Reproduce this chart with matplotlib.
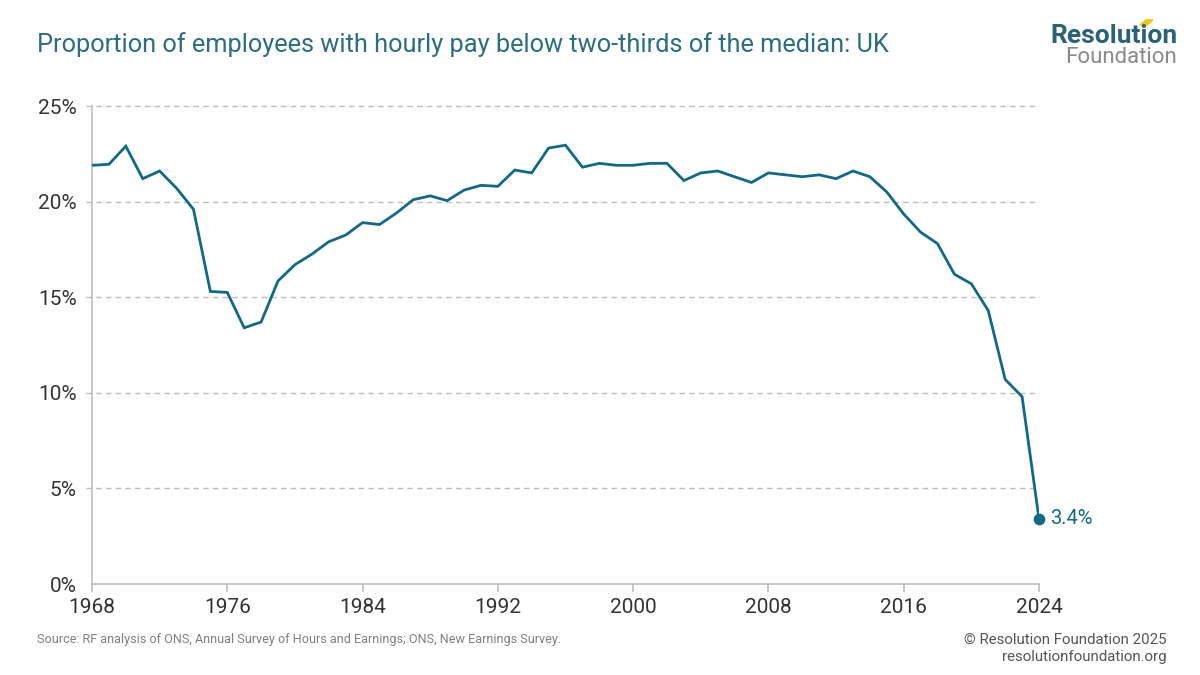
import matplotlib
matplotlib.use("Agg")
import matplotlib.pyplot as plt
from matplotlib.ticker import FuncFormatter

years = list(range(1968, 2025))
low_pay_share = [
    21.9, 21.95, 22.9, 21.2, 21.6, 20.7, 19.6, 15.3, 15.25, 13.4,
    13.7, 15.85, 16.7, 17.25, 17.9, 18.25, 18.9, 18.8, 19.4, 20.1,
    20.3, 20.05, 20.6, 20.85, 20.8, 21.65, 21.5, 22.8, 22.95, 21.8,
    22.0, 21.9, 21.9, 22.0, 22.0, 21.1, 21.5, 21.6, 21.3, 21.0,
    21.5, 21.4, 21.3, 21.4, 21.2, 21.6, 21.3, 20.5, 19.35, 18.4,
    17.8, 16.2, 15.7, 14.3, 10.7, 9.8, 3.4,
]
x_ticks = [1968, 1976, 1984, 1992, 2000, 2008, 2016, 2024]
y_ticks = [0, 5, 10, 15, 20, 25]

TEAL = "#106a87"
TITLE_C = "#2b6e7f"
GREY = "#bdbdbd"
TXT = "#333333"

plt.rcParams['font.family'] = ['Roboto', 'DejaVu Sans']

fig = plt.figure(figsize=(12, 6.75), dpi=100)
ax = fig.add_axes([92/1200, 1 - 584/675, (1039-92)/1200, (584-106)/675])

ax.plot(years, low_pay_share, color=TEAL, lw=2, solid_joinstyle='miter', zorder=3)
ax.scatter([years[-1]], [low_pay_share[-1]], s=55, color=TEAL, zorder=4, clip_on=False)
ax.annotate(f"{low_pay_share[-1]:.1f}%", (years[-1], low_pay_share[-1]),
            xytext=(8, 0), textcoords='offset points', va='center', ha='left',
            color=TEAL, fontsize=14.5)

ax.set_xlim(1968, 2024)
ax.set_ylim(0, 25)
ax.set_xticks(x_ticks)
ax.set_yticks(y_ticks)
ax.yaxis.set_major_formatter(FuncFormatter(lambda v, p: f"{v:.0f}%"))

for y in y_ticks[1:]:
    ax.axhline(y, xmin=-6/947, xmax=1, color=GREY, lw=1, ls=(0, (4, 3)), clip_on=False, zorder=1)

for s in ['top', 'right']:
    ax.spines[s].set_visible(False)
for s in ['left', 'bottom']:
    ax.spines[s].set_color(GREY)
    ax.spines[s].set_linewidth(1.2)

ax.tick_params(axis='x', length=6, width=1.2, color=GREY, labelsize=15, labelcolor=TXT, pad=4)
ax.tick_params(axis='y', length=0, labelsize=15, labelcolor=TXT, pad=11)

fig.text(37/1200, 1 - 45/675, "Proportion of employees with hourly pay below two-thirds of the median: UK",
         fontsize=18.3, color=TITLE_C, va='center', ha='left')

# logo
fig.text(1177/1200, 1 - 43/675, "Resolution", fontsize=19, fontweight='bold', color="#2a6378",
         ha='right', va='baseline')
fig.text(1177/1200, 1 - 47/675, "Foundation", fontsize=16, color="#8a8a8a",
         ha='right', va='top')
fig.patches.append(plt.Polygon([[1140/1200, 1 - 25/675], [1147/1200, 1 - 25/675],
                                [1153/1200, 1 - 20/675], [1146/1200, 1 - 20/675]],
                               closed=True, transform=fig.transFigure, color="#f2c500"))

fig.text(37/1200, 1 - 640/675,
         "Source: RF analysis of ONS, Annual Survey of Hours and Earnings; ONS, New Earnings Survey.",
         fontsize=9.1, color="#808080", va='center', ha='left')
fig.text(1167/1200, 1 - 640/675, "\u00a9 Resolution Foundation 2025", fontsize=10.8, color="#555555",
         va='center', ha='right')
fig.text(1167/1200, 1 - 657/675, "resolutionfoundation.org", fontsize=10.8, color="#555555",
         va='center', ha='right')

fig.savefig("out.png", dpi=100)
